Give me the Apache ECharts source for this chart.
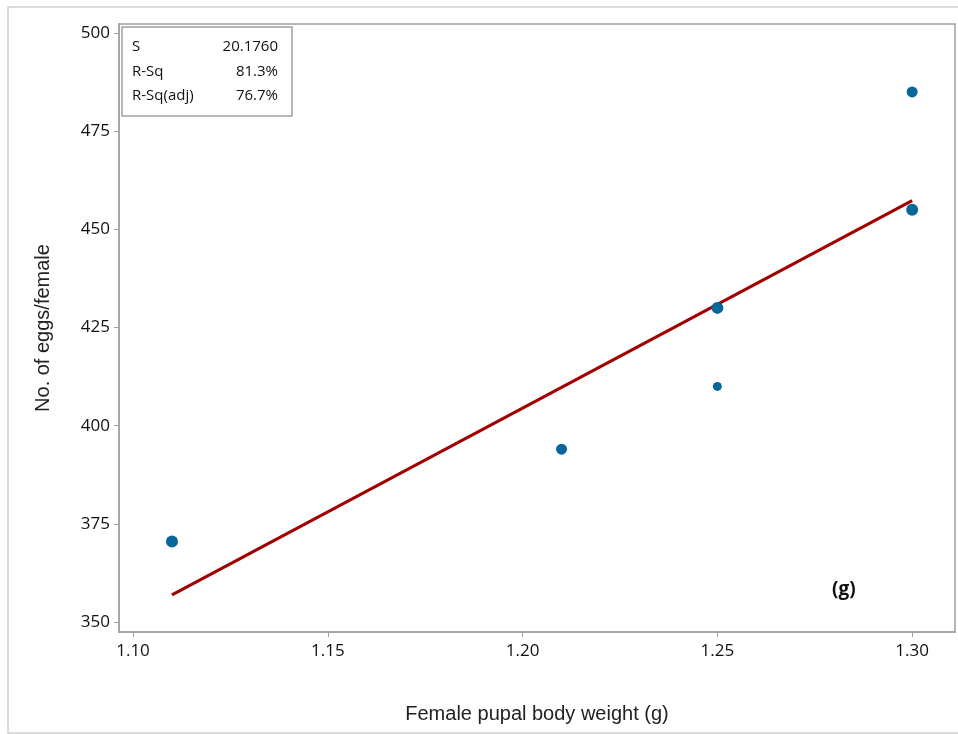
<!DOCTYPE html>
<html>
<head>
<meta charset="utf-8">
<script src="https://cdn.jsdelivr.net/npm/echarts@6/dist/echarts.min.js"></script>
<style>
  html, body { margin: 0; padding: 0; background: #fff; }
  #chart { width: 958px; height: 734px; }
</style>
</head>
<body>
<div id="chart"></div>
<script>
// pupal weight (g) vs eggs per female
const weights = [1.11, 1.21, 1.25, 1.25, 1.30, 1.30];
const eggs = [370.5, 394, 430, 410, 485, 455];
const dotSizes = [12, 11, 12, 9, 11, 12];
// fitted line, ends
const fitX = [1.11, 1.30];
const fitY = [356.9, 457.3];
const xTicks = [1.10, 1.15, 1.20, 1.25, 1.30];
const yTicks = [350, 375, 400, 425, 450, 475, 500];
const statNames = ['S', 'R-Sq', 'R-Sq(adj)'];
const statValues = ['20.1760', '81.3%', '76.7%'];

let chart = echarts.init(document.getElementById('chart'));

const axisGray = '#a0a0a0';
const tickFont = { fontFamily: 'Open Sans', fontSize: 17, color: '#111' };

// stats box texts
let statTexts = [];
statNames.forEach((n, i) => {
  statTexts.push({ type: 'text', z: 11, x: 132, y: 47 + i * 24.5,
    style: { text: n, font: '15px "Open Sans"', fill: '#111', verticalAlign: 'middle' } });
  statTexts.push({ type: 'text', z: 11, x: 278, y: 47 + i * 24.5,
    style: { text: statValues[i], font: '15px "Open Sans"', fill: '#111', align: 'right', verticalAlign: 'middle' } });
});

chart.setOption({
  animation: false,
  grid: { left: 119, top: 24, right: 3, bottom: 102, show: true, borderColor: axisGray, borderWidth: 1.5 },
  xAxis: {
    type: 'value', min: 1.0964, max: 1.311,
    name: 'Female pupal body weight (g)', nameLocation: 'middle', nameGap: 72,
    nameTextStyle: { fontFamily: 'Liberation Sans', fontSize: 20, color: '#222' },
    axisLine: { show: true, lineStyle: { color: axisGray, width: 1.5 } },
    axisTick: { show: true, length: 5, customValues: xTicks, lineStyle: { color: axisGray } },
    axisLabel: Object.assign({ customValues: xTicks, margin: 11, formatter: v => v.toFixed(2) }, tickFont),
    splitLine: { show: false }
  },
  yAxis: {
    type: 'value', min: 347.45, max: 502.3,
    name: 'No. of eggs/female', nameLocation: 'middle', nameGap: 66, nameRotate: 90,
    nameTextStyle: { fontFamily: 'Liberation Sans', fontSize: 20, color: '#222' },
    axisLine: { show: true, lineStyle: { color: axisGray, width: 1.5 } },
    axisTick: { show: true, length: 5, customValues: yTicks, lineStyle: { color: axisGray } },
    axisLabel: Object.assign({ customValues: yTicks, margin: 9 }, tickFont),
    splitLine: { show: false }
  },
  series: [
    {
      type: 'line',
      data: fitX.map((x, i) => [x, fitY[i]]),
      showSymbol: false,
      lineStyle: { color: '#a00000', width: 3 },
      z: 2
    },
    {
      type: 'scatter',
      data: weights.map((w, i) => ({ value: [w, eggs[i]], symbolSize: dotSizes[i] })),
      symbol: 'circle',
      itemStyle: { color: '#07679b', opacity: 1 },
      z: 3
    }
  ],
  graphic: [
    { type: 'rect', shape: { x: 8, y: 7, width: 1000, height: 726 },
      style: { fill: 'none', stroke: '#d0d0d0', lineWidth: 1.5 }, silent: true },
    { type: 'rect', z: 10, shape: { x: 122, y: 27, width: 170, height: 89 },
      style: { fill: '#fff', stroke: '#a0a0a0', lineWidth: 1.5 } }
  ].concat(statTexts, [
    { type: 'text', left: 832, top: 580,
      style: { text: '(g)', font: 'bold 19px "Open Sans"', fill: '#111' } }
  ])
});
</script>
</body>
</html>
